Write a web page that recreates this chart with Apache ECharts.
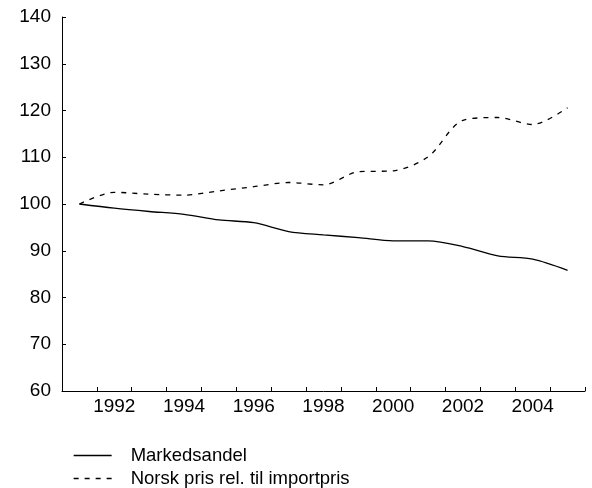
<!DOCTYPE html>
<html>
<head>
<meta charset="utf-8">
<script src="https://cdn.jsdelivr.net/npm/echarts@6/dist/echarts.min.js"></script>
<style>
html,body{margin:0;padding:0;background:#fff;}
#c{width:592px;height:488px;}
</style>
</head>
<body>
<div id="c"></div>
<script>
var years = ['1991','1992','1993','1994','1995','1996','1997','1998','1999','2000','2001','2002','2003','2004','2005'];
var markedsandel = [100, 99.1, 98.4, 97.8, 96.6, 96.0, 94.1, 93.4, 92.8, 92.1, 92.1, 90.9, 88.9, 88.2, 85.8];
var prisRel = [100, 102.5, 102.1, 101.9, 102.8, 103.7, 104.6, 104.1, 106.9, 107.1, 110.1, 117.9, 118.5, 117.0, 120.6];
var seriesNames = ['Markedsandel', 'Norsk pris rel. til importpris'];
var yTicks = {min: 60, max: 140, interval: 10};

var font = 'Liberation Sans, Arial, sans-serif';
function mkLegend(name, top) {
  return {
    orient: 'vertical',
    left: 68,
    top: top,
    itemWidth: 38,
    itemHeight: 14,
    data: [name],
    itemStyle: {opacity: 0, borderWidth: 0},
    lineStyle: {width: 1.3},
    textStyle: {fontFamily: font, fontSize: 18.5, color: '#000', padding: [0, 0, 0, 14]}
  };
}
var chart = echarts.init(document.getElementById('c'), null, {renderer: 'canvas'});
chart.setOption({
  animation: false,
  backgroundColor: '#ffffff',
  grid: {left: 62, right: 7, top: 17, bottom: 97, containLabel: false},
  legend: [mkLegend(seriesNames[0], 441), mkLegend(seriesNames[1], 464)],
  xAxis: {
    type: 'category',
    data: years,
    boundaryGap: true,
    axisLine: {show: true, lineStyle: {color: '#000', width: 1}},
    axisTick: {show: true, inside: true, length: 4, interval: 0, lineStyle: {color: '#000'}},
    axisLabel: {
      interval: function (i) { return i % 2 === 1; },
      fontFamily: font, fontSize: 19, color: '#000', margin: 6
    },
    splitLine: {show: false}
  },
  yAxis: {
    type: 'value',
    min: yTicks.min, max: yTicks.max, interval: yTicks.interval,
    axisLine: {show: true, lineStyle: {color: '#000', width: 1}},
    axisTick: {show: true, inside: true, length: 4, lineStyle: {color: '#000'}},
    axisLabel: {fontFamily: font, fontSize: 19, color: '#000', margin: 11},
    splitLine: {show: false}
  },
  series: [
    {
      name: seriesNames[0], type: 'line', data: markedsandel,
      symbol: 'none', smooth: 0.3,
      lineStyle: {color: '#000', width: 1.3, type: 'solid'},
      itemStyle: {color: '#000'}
    },
    {
      name: seriesNames[1], type: 'line', data: prisRel,
      symbol: 'none', smooth: 0.3,
      lineStyle: {color: '#000', width: 1.3, type: [5, 6]},
      itemStyle: {color: '#000'}
    }
  ]
});
</script>
</body>
</html>
